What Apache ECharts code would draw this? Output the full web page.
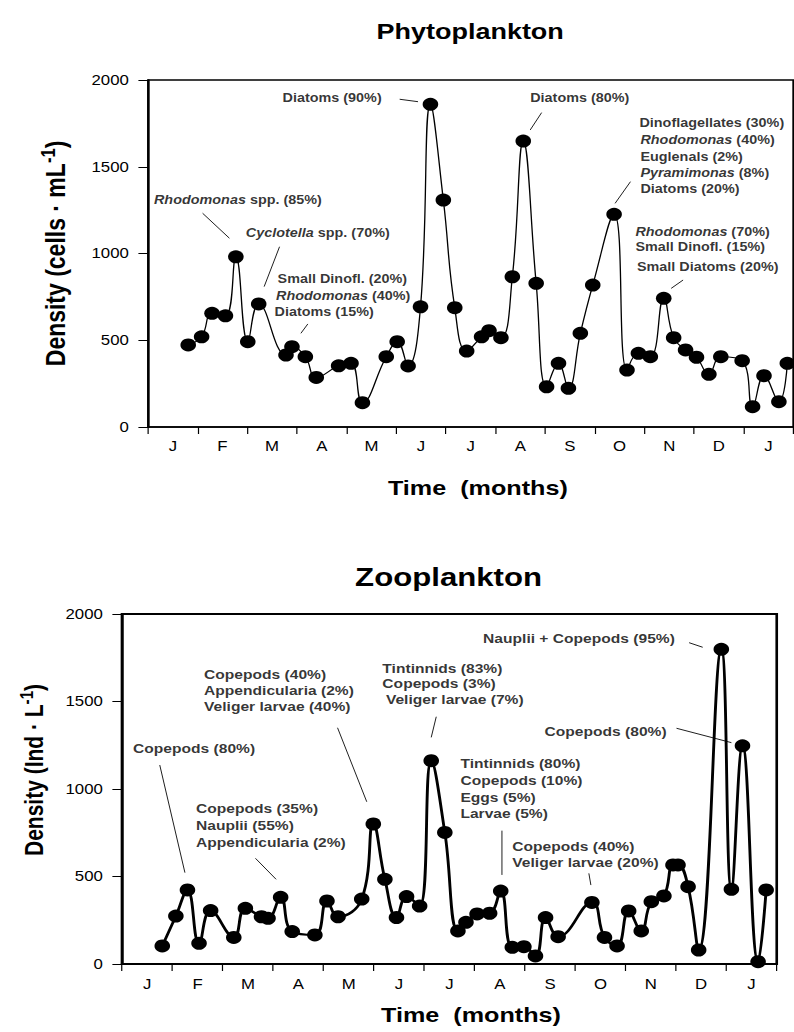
<!DOCTYPE html>
<html>
<head>
<meta charset="utf-8">
<script src="https://cdn.jsdelivr.net/npm/echarts@6/dist/echarts.min.js"></script>
<style>
html,body{margin:0;padding:0;background:#fff;overflow:hidden;}
#wrap{width:794px;height:1032px;overflow:hidden;}
#chart{width:662px;height:1032px;transform:scaleX(1.1994);transform-origin:0 0;}
</style>
</head>
<body>
<div id="wrap"><div id="chart"></div></div>
<script>
// ---------- data ----------
const months = ['J','F','M','A','M','J','J','A','S','O','N','D','J'];
const yTicks = [0, 500, 1000, 1500, 2000];

// Phytoplankton: sampling time (months from start of January) and density (cells/mL)
const phytoTime = [0.81,1.08,1.29,1.56,1.77,2.01,2.23,2.78,2.90,3.17,3.39,3.84,4.09,4.32,4.80,5.02,5.24,5.49,5.69,5.95,6.18,6.42,6.72,6.87,7.11,7.34,7.56,7.82,8.03,8.27,8.47,8.71,8.96,9.39,9.65,9.88,10.12,10.39,10.59,10.83,11.05,11.30,11.54,11.97,12.18,12.41,12.71,12.88];
const phytoDensity = [473,520,655,641,981,492,709,415,463,405,286,353,367,140,405,492,352,693,1860,1308,688,438,520,555,515,866,1648,828,232,367,223,540,818,1226,328,425,405,742,515,444,402,304,405,382,117,296,146,367];

// Zooplankton: sampling time and density (Ind/L)
const zooTime = [0.80,1.07,1.30,1.53,1.76,2.22,2.45,2.77,2.90,3.15,3.38,3.83,4.07,4.29,4.76,4.99,5.22,5.45,5.65,5.91,6.14,6.41,6.67,6.83,7.05,7.30,7.52,7.75,7.98,8.21,8.41,8.66,9.33,9.58,9.83,10.06,10.31,10.51,10.76,10.94,11.04,11.24,11.45,11.90,12.10,12.32,12.63,12.79];
const zooDensity = [103,274,423,118,305,152,318,270,261,381,185,166,360,270,371,800,484,265,385,331,1162,752,189,238,286,290,417,95,99,46,265,156,352,152,103,303,189,356,389,566,566,442,80,1798,427,1247,13,423];

// Annotation texts: [text, month, density] (left edge, line centre)
const phytoNotes = [
  ['{i|Rhodomonas} spp. (85%)', 0.12, 1308],
  ['{i|Cyclotella} spp. (70%)', 1.97, 1116],
  ['Small Dinofl. (20%)', 2.61, 853],
  ['{i|Rhodomonas} (40%)', 2.58, 757],
  ['Diatoms (15%)', 2.55, 661],
  ['Diatoms (90%)', 2.71, 1895],
  ['Diatoms (80%)', 7.70, 1895],
  ['Dinoflagellates (30%)', 9.90, 1750],
  ['{i|Rhodomonas} (40%)', 9.92, 1654],
  ['Euglenals (2%)', 9.92, 1554],
  ['{i|Pyramimonas} (8%)', 9.92, 1462],
  ['Diatoms (20%)', 9.92, 1372],
  ['{i|Rhodomonas} (70%)', 9.82, 1126],
  ['Small Dinofl. (15%)', 9.82, 1039],
  ['Small Diatoms (20%)', 9.85, 924]
];
// Leader lines: [month1, density1, month2, density2]
const phytoLeaders = [
  [1.10,1232, 1.64,1088],
  [2.65,1039, 2.34,809],
  [3.22,594, 3.08,540],
  [5.07,1889, 5.44,1875],
  [7.93,1812, 7.70,1712],
  [9.72,1414, 9.41,1289],
  [10.78,847, 10.54,799]
];
const zooNotes = [
  ['Copepods (80%)', 0.22, 1233],
  ['Copepods (35%)', 1.47, 890],
  ['Nauplii (55%)', 1.47, 790],
  ['Appendicularia (2%)', 1.47, 695],
  ['Copepods (40%)', 1.63, 1657],
  ['Appendicularia (2%)', 1.63, 1562],
  ['Veliger larvae (40%)', 1.63, 1474],
  ['Tintinnids (83%)', 5.17, 1690],
  ['Copepods (3%)', 5.17, 1604],
  ['Veliger larvae (7%)', 5.24, 1509],
  ['Tintinnids (80%)', 6.72, 1147],
  ['Copepods (10%)', 6.72, 1051],
  ['Eggs (5%)', 6.72, 953],
  ['Larvae (5%)', 6.72, 861],
  ['Copepods (40%)', 7.75, 674],
  ['Veliger larvae (20%)', 7.75, 581],
  ['Nauplii + Copepods (95%)', 7.17, 1861],
  ['Copepods (80%)', 8.39, 1331]
];
const zooLeaders = [
  [0.75,1137, 1.25,522],
  [2.65,604, 3.06,484],
  [4.28,1350, 4.86,927],
  [6.24,1413, 6.14,1295],
  [7.53,762, 7.53,509],
  [9.27,518, 9.31,451],
  [11.26,1836, 11.53,1810],
  [11.01,1347, 12.10,1265]
];

// ---------- chart ----------
const FONT = '"Liberation Sans", Arial, Helvetica, sans-serif';
const pairs = (xs, ys) => xs.map((x, i) => [x, ys[i]]);

function grids(idx, cfg) {
  return {
    valueX: {
      gridIndex: idx, type: 'value', min: 0, max: 13, show: false, position: 'top'
    },
    catX: {
      gridIndex: idx, type: 'category', data: months, boundaryGap: true, position: 'bottom',
      axisLine: {lineStyle: {color: '#000', width: cfg.frame}},
      axisTick: {show: true, inside: false, length: 7, alignWithLabel: false, interval: 0, lineStyle: {color: '#000', width: 1}},
      axisLabel: {interval: 0, color: '#000', fontFamily: FONT, fontSize: 14, margin: cfg.xMargin},
      name: 'Time  (months)', nameLocation: 'middle', nameGap: cfg.xNameGap,
      nameTextStyle: {color: '#000', fontFamily: FONT, fontSize: 21, fontWeight: 'bold', padding: cfg.xNamePad},
      splitLine: {show: false}
    },
    y: {
      gridIndex: idx, type: 'value', min: yTicks[0], max: yTicks[yTicks.length - 1], interval: yTicks[1] - yTicks[0],
      axisLine: {show: true, lineStyle: {color: '#000', width: cfg.frame}},
      axisTick: {show: true, inside: false, length: 8, lineStyle: {color: '#000', width: 1}},
      axisLabel: {color: '#000', fontFamily: FONT, fontSize: 14, margin: 16, formatter: v => String(v)},
      splitLine: {show: false},
      name: cfg.yName, nameLocation: 'middle', nameGap: cfg.yNameGap,
      nameTextStyle: {color: '#000', fontFamily: FONT, fontSize: cfg.yNameSize, fontWeight: 'bold', padding: cfg.yNamePad,
        rich: {sup: {fontFamily: FONT, fontSize: cfg.yNameSize * 0.72, fontWeight: 'bold', color: '#000', padding: [0, 0, 12, 0]}}}
    }
  };
}

const g0 = grids(0, {frame: 1.6, xMargin: 12, xNameGap: 50, xNamePad: [0,0,0,12],
  yName: 'Density (cells · mL{sup|-1})', yNameGap: 63, yNamePad: [0,0,0,0], yNameSize: 23});
const g1 = grids(1, {frame: 2.2, xMargin: 13, xNameGap: 40, xNamePad: [0,0,0,36],
  yName: 'Density (Ind · L{sup|-1})', yNameGap: 60, yNamePad: [0,0,0,38], yNameSize: 21});

function noteSeries(notes, leaders, xIdx, yIdx, size) {
  return {
    type: 'scatter', xAxisIndex: xIdx, yAxisIndex: yIdx, silent: true, z: 5,
    symbolSize: 0, itemStyle: {color: 'transparent'},
    data: notes.map(n => ({value: [n[1], n[2]], name: n[0]})),
    label: {
      show: true, position: 'right', distance: 0, formatter: p => p.name,
      color: '#000', fontFamily: FONT, fontSize: size, fontWeight: 'bold',
      rich: {i: {fontFamily: FONT, fontSize: size, fontWeight: 'bold', fontStyle: 'italic', color: '#000'}}
    },
    markLine: {
      silent: true, symbol: ['none', 'none'], animation: false,
      label: {show: false},
      lineStyle: {color: '#000', width: 0.8, type: 'solid'},
      emphasis: {disabled: true},
      data: leaders.map(l => [{coord: [l[0], l[1]]}, {coord: [l[2], l[3]]}])
    },
    emphasis: {disabled: true}
  };
}

const chart = echarts.init(document.getElementById('chart'), null, {renderer: 'svg'});
chart.setOption({
  animation: false,
  backgroundColor: '#fff',
  textStyle: {fontFamily: FONT},
  grid: [
    {left: 123.4, right: 0.6, top: 80, height: 347, show: true, borderColor: '#000', borderWidth: 1.6, containLabel: false},
    {left: 101.7, right: 14.4, top: 614, height: 350, show: true, borderColor: '#000', borderWidth: 2.2, containLabel: false}
  ],
  xAxis: [g0.valueX, g0.catX, g1.valueX, g1.catX],
  yAxis: [g0.y, g1.y],
  graphic: [
    {type: 'text', x: 392, y: 31, silent: true,
     style: {text: 'Phytoplankton', textAlign: 'center', textVerticalAlign: 'middle', fill: '#000',
             font: 'bold 22.5px ' + FONT}},
    {type: 'text', x: 374, y: 577, silent: true,
     style: {text: 'Zooplankton', textAlign: 'center', textVerticalAlign: 'middle', fill: '#000',
             font: 'bold 26px ' + FONT}}
  ],
  series: [
    {type: 'line', name: 'Phytoplankton', xAxisIndex: 0, yAxisIndex: 0, data: pairs(phytoTime, phytoDensity),
     smooth: 0.45, clip: false, symbol: 'circle', symbolSize: 13, z: 3,
     itemStyle: {color: '#000'}, lineStyle: {color: '#000', width: 1.1}, emphasis: {disabled: true}},
    {type: 'line', name: 'Zooplankton', xAxisIndex: 2, yAxisIndex: 1, data: pairs(zooTime, zooDensity),
     smooth: 0.45, clip: false, symbol: 'circle', symbolSize: 13, z: 3,
     itemStyle: {color: '#000'}, lineStyle: {color: '#000', width: 2.4}, emphasis: {disabled: true}},
    noteSeries(phytoNotes, phytoLeaders, 0, 0, 12),
    noteSeries(zooNotes, zooLeaders, 2, 1, 13)
  ]
});
</script>
</body>
</html>
